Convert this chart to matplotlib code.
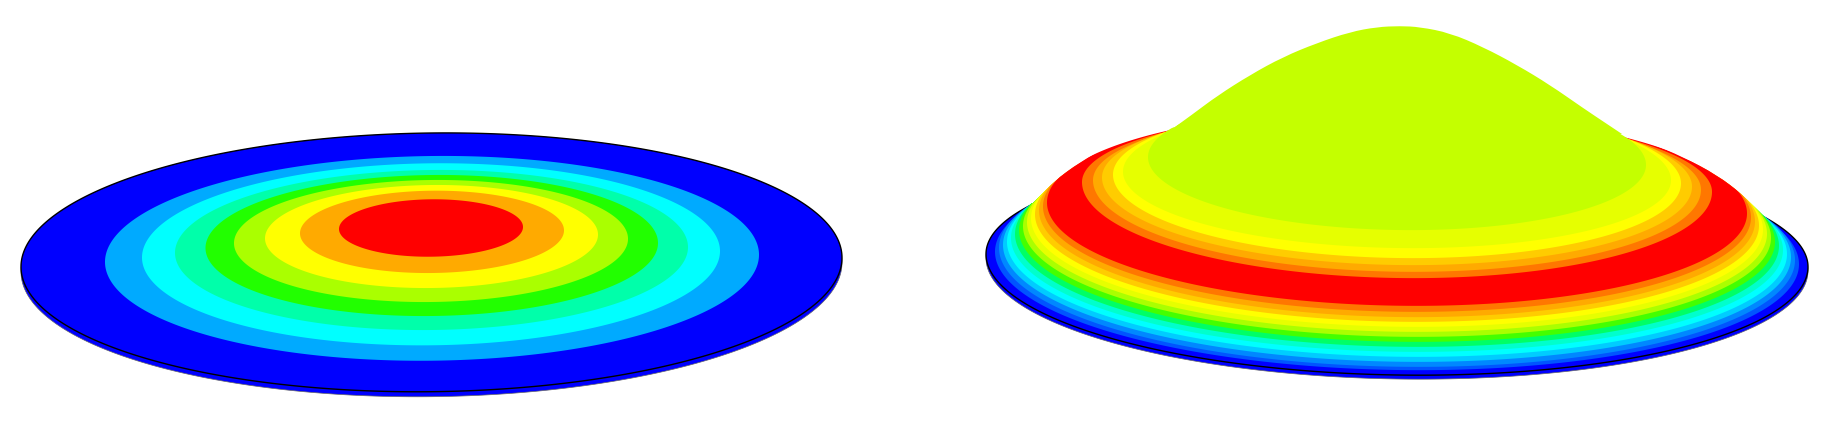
import numpy as np
import matplotlib.pyplot as plt
from matplotlib.patches import PathPatch, Polygon
from matplotlib.path import Path

# left disc, flat contour bands from the outside in
flat_colors = ["#0000ff", "#00aaff", "#00ffff", "#00ffaa", "#22ff00", "#aaff00", "#ffff00", "#ffaa00", "#ff0000"]
flat_left = [21, 105, 142, 175, 205.5, 234, 265, 300, 339]
flat_right = [842, 759, 720, 688, 658, 628, 598, 564, 523]
flat_top = [133, 156, 163.3, 170, 175, 180, 185, 190.7, 199.3]
flat_bottom = [391.7, 360.7, 345.3, 330, 316, 302, 288, 273, 256.7]

# right disc with the bump
bump_colors = ["#0000ff", "#0055ff", "#0088ff", "#00ccff", "#00ffff", "#00ffcc", "#00ff66", "#44ff00",
               "#aaff00", "#e6ff00", "#ffff00", "#ffcc00", "#ffaa00", "#ff7700", "#ff0000",
               "#ff7700", "#ffaa00", "#ffcc00", "#ffff00", "#e6ff00", "#c4ff00"]
bump_left = [986, 995, 999, 1003, 1007, 1011, 1015, 1019, 1023, 1027, 1031, 1035, 1039, 1043, 1047,
             1082, 1093, 1102, 1113, 1123, 1148]
bump_bottom = [375, 370, 366.7, 361.7, 356.7, 351.7, 346.7, 341.7, 336.7, 331.7, 326.7, 321.7, 317, 311.7, 305.7,
               278, 271.7, 265, 258, 248, 230]
bump_mid = [260.5, 258, 254, 251, 248, 244, 240, 236, 232, 228, 224, 220, 216, 212, 208,
            187, 185, 182, 179, 176, 161]
bump_top = [151, 146, 141.3, 140.3, 139.3, 136.3, 133.3, 130.3, 127.3, 124.3, 121.3, 118.3, 115, 112.3, 110.3,
            111, 110, 107, 104, 103, 92]

outline_x = [1033, 1038, 1053, 1080, 1113, 1147, 1175, 1193, 1217, 1250, 1283, 1317, 1350, 1377, 1400,
             1420, 1450, 1483, 1517, 1550, 1583, 1607, 1622, 1650, 1683, 1717, 1743, 1762]
outline_y = [203, 198, 182, 162, 143, 132, 127, 114, 96, 75, 57, 43, 32, 27, 26,
             27, 33, 47, 65, 85, 108, 124, 134, 143, 157, 175, 195, 213]
# where the bump starts and ends along the outline
cap_from = 6
cap_to = 22


def ring(x0, x1, top, mid, bottom, tilt):
    t = np.linspace(0, 2 * np.pi, 600)
    cx = (x0 + x1) / 2
    x = cx + (x1 - x0) / 2 * np.cos(t)
    s = np.sin(t)
    y = mid + s * np.where(s > 0, bottom - mid, mid - top) + tilt * (x - cx)
    return np.column_stack([x, y])


def disc(ax, x0, x1, top, mid, bottom, tilt, rim):
    ax.add_patch(Polygon(ring(x0, x1, top + rim, mid + rim, bottom + rim, tilt), fc="#0000ff", ec="#666666", lw=0.5))
    ax.add_patch(Polygon(ring(x0, x1, top, mid, bottom, tilt), fc="#0000ff", ec="black", lw=1.0))


def smooth(xs, ys):
    # quadratic curve through the midpoints so the outline has no corners
    pts = list(zip(xs, ys))
    verts, codes = [], []
    for a, b in zip(pts[1:-1], pts[2:]):
        verts += [a, ((a[0] + b[0]) / 2, (a[1] + b[1]) / 2)]
        codes += [Path.CURVE3, Path.CURVE3]
    verts.append(pts[-1])
    codes.append(Path.LINETO)
    return verts, codes


fig = plt.figure(figsize=(18.29, 4.28), dpi=100)
ax = fig.add_axes([0, 0, 1, 1])
ax.set_xlim(0, 1829)
ax.set_ylim(428, 0)
ax.axis("off")

# flat one
disc(ax, flat_left[0], flat_right[0], flat_top[0], (flat_top[0] + flat_bottom[0]) / 2, flat_bottom[0], -0.011, 5)
for i in range(1, len(flat_colors)):
    ax.add_patch(Polygon(ring(flat_left[i], flat_right[i], flat_top[i], (flat_top[i] + flat_bottom[i]) / 2,
                              flat_bottom[i], -0.011), fc=flat_colors[i], ec="none"))

# bumped one, bands get cut off at the outline of the bump
mid_x = 1397
disc(ax, bump_left[0], 2 * mid_x - bump_left[0], bump_top[0], bump_mid[0], bump_bottom[0], 0.0155, 4)

shoulder_l = smooth(outline_x[:cap_from + 1], outline_y[:cap_from + 1])
cap = smooth(outline_x[cap_from:cap_to + 1], outline_y[cap_from:cap_to + 1])
shoulder_r = smooth(outline_x[cap_to:], outline_y[cap_to:])

verts = [(900, outline_y[0]), (outline_x[0], outline_y[0])] + shoulder_l[0] + cap[0] + shoulder_r[0]
codes = [Path.MOVETO, Path.LINETO] + shoulder_l[1] + cap[1] + shoulder_r[1]
verts += [(1829, outline_y[-1]), (1829, 428), (900, 428), (900, outline_y[0])]
codes += [Path.LINETO, Path.LINETO, Path.LINETO, Path.CLOSEPOLY]
clip = PathPatch(Path(verts, codes), transform=ax.transData, fc="none", ec="none")
ax.add_patch(clip)

for i in range(1, len(bump_colors)):
    p = Polygon(ring(bump_left[i], 2 * mid_x - bump_left[i], bump_top[i], bump_mid[i], bump_bottom[i], 0.0155),
                fc=bump_colors[i], ec="none")
    ax.add_patch(p)
    p.set_clip_path(clip)

cap_v = [(outline_x[cap_from], outline_y[cap_from])] + cap[0] + [(outline_x[cap_from], outline_y[cap_from])]
cap_c = [Path.MOVETO] + cap[1] + [Path.CLOSEPOLY]
ax.add_patch(PathPatch(Path(cap_v, cap_c), fc=bump_colors[-1], ec="none"))

fig.savefig("out.png", dpi=100, facecolor="white")
